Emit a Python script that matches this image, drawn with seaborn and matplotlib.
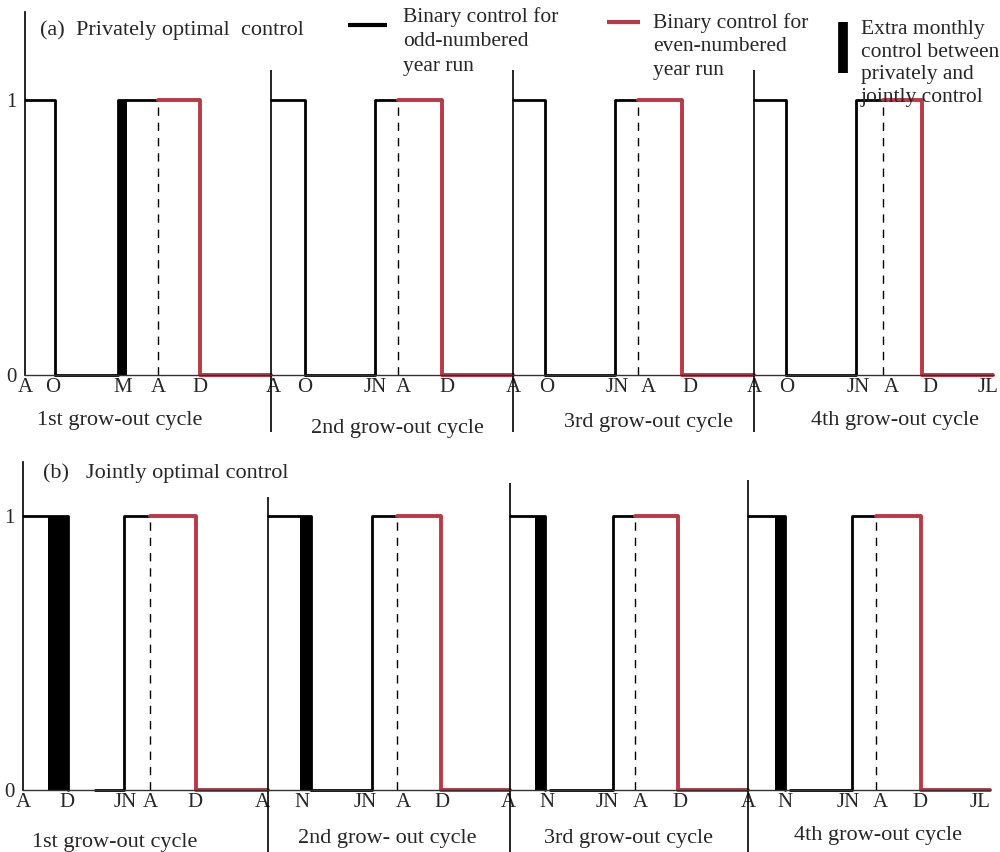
import numpy as np
import pandas as pd
import matplotlib
matplotlib.use('Agg')
import matplotlib.pyplot as plt
import seaborn as sns

# --- DATA (time axis: about 10 units per grow-out cycle) ---
CYCLE_NAMES_A = ["1st grow-out cycle", "2nd grow-out cycle", "3rd grow-out cycle", "4th grow-out cycle"]
CYCLE_NAMES_B = ["1st grow-out cycle", "2nd grow- out cycle", "3rd grow-out cycle", "4th grow-out cycle"]

# (a) privately optimal control
A_START = [0.0, 10.14, 20.12, 30.06]
A_END = [10.14, 20.12, 30.06, 39.92]
A_OFF = [1.24, 11.55, 21.44, 31.38]
A_ZERO_FROM = [1.24, 11.55, 21.44, 31.38]
A_ON = [3.84, 14.43, 24.33, 34.27]
A_SWITCH = [5.48, 15.38, 25.28, 35.38]   # odd-year run -> even-year run
A_STOP = [7.22, 17.20, 27.09, 36.99]
A_EXTRA_L = [3.84]
A_EXTRA_R = [4.21]
A_TICK_POS = [0.0, 1.15, 4.04, 5.48, 7.22, 10.23, 11.55, 14.43, 15.59, 17.40,
              20.12, 21.53, 24.41, 25.69, 27.42, 30.10, 31.42, 34.35, 35.75, 37.32, 39.71]
A_TICK_LAB = ['A', 'O', 'M', 'A', 'D', 'A', 'O', 'JN', 'A', 'D',
              'A', 'O', 'JN', 'A', 'D', 'A', 'O', 'JN', 'A', 'D', 'JL']

# (b) jointly optimal control
B_START = [0.0, 10.10, 20.08, 29.90]
B_END = [10.10, 20.08, 29.90, 39.88]
B_OFF = [1.86, 11.88, 21.53, 31.42]
B_ZERO_FROM = [2.97, 11.88, 21.73, 31.63]
B_ON = [4.16, 14.39, 24.33, 34.19]
B_SWITCH = [5.24, 15.42, 25.24, 35.18]
B_STOP = [7.13, 17.24, 27.01, 37.03]
B_EXTRA_L = [1.03, 11.42, 21.11, 31.01]
B_EXTRA_R = [1.86, 11.88, 21.53, 31.42]
B_TICK_POS = [0.0, 1.81, 4.20, 5.24, 7.09, 9.86, 11.50, 14.10, 15.67, 17.28,
              20.00, 21.61, 24.08, 25.44, 27.09, 29.90, 31.42, 34.02, 35.34, 36.99, 39.46]
B_TICK_LAB = ['A', 'D', 'JN', 'A', 'D', 'A', 'N', 'JN', 'A', 'D',
              'A', 'N', 'JN', 'A', 'D', 'A', 'N', 'JN', 'A', 'D', 'JL']

RED = '#b83a45'
FS_TICK = 15
FS_LEG = 15.5
FS_TXT = 16


def step_frame(start, off, zero_from, on, switch, stop, end):
    rows = []
    for i in range(len(start)):
        pieces = [
            ('odd', [(start[i], 1), (off[i], 1), (off[i], 0)]),
            ('odd', [(zero_from[i], 0), (on[i], 0), (on[i], 1), (switch[i], 1)]),
            ('even', [(switch[i], 1), (stop[i], 1), (stop[i], 0), (end[i], 0)]),
        ]
        for j, (run, pts) in enumerate(pieces):
            for t, u in pts:
                rows.append({'t': t, 'u': u, 'seg': f'{i}-{j}', 'run': run})
    return pd.DataFrame(rows)


def draw_panel(ax, df, extra_l, extra_r, switch, start, ticks, labels, y_top, sep_top, sep_bottom):
    sns.lineplot(data=df[df.run == 'odd'], x='t', y='u', units='seg', estimator=None, sort=False,
                 color='black', lw=2, ax=ax, legend=False)
    sns.lineplot(data=df[df.run == 'even'], x='t', y='u', units='seg', estimator=None, sort=False,
                 color=RED, lw=2.8, ax=ax, legend=False)
    ax.bar(extra_l, 1, width=np.subtract(extra_r, extra_l), align='edge', color='black', lw=0)
    ax.vlines(switch, 0, 1, colors='black', lw=1, linestyles=(0, (6, 5)))
    ax.vlines(start[1:], sep_bottom, sep_top, colors='black', lw=1.2, clip_on=False)

    for s in ['top', 'right']:
        ax.spines[s].set_visible(False)
    ax.spines['left'].set_bounds(0, y_top)
    ax.spines['left'].set_linewidth(1.2)
    ax.spines['left'].set_color('black')
    ax.spines['bottom'].set_position(('data', 0))
    ax.spines['bottom'].set_bounds(0, df.t.max())
    ax.spines['bottom'].set_linewidth(1)
    ax.spines['bottom'].set_color('#333333')
    ax.set_yticks([0, 1])
    ax.set_yticklabels(['0', '1'], fontsize=FS_TICK)
    ax.set_xticks(ticks)
    ax.set_xticklabels(labels, fontsize=FS_TICK)
    ax.tick_params(axis='y', length=0, pad=6)
    ax.tick_params(axis='x', length=0, pad=2)
    ax.set_xlabel('')
    ax.set_ylabel('')


sns.set_theme(style='white')
plt.rcParams['font.family'] = ['Liberation Serif', 'DejaVu Serif']

fig = plt.figure(figsize=(10, 8.52), dpi=100)
ax_a = fig.add_axes([0.025, 1 - 440 / 852, 0.975, 440 / 852])
ax_b = fig.add_axes([0.023, 0, 0.977, 412 / 852])

df_a = step_frame(A_START, A_OFF, A_ZERO_FROM, A_ON, A_SWITCH, A_STOP, A_END)
df_b = step_frame(B_START, B_OFF, B_ZERO_FROM, B_ON, B_SWITCH, B_STOP, B_END)

draw_panel(ax_a, df_a, A_EXTRA_L, A_EXTRA_R, A_SWITCH, A_START, A_TICK_POS, A_TICK_LAB,
           1.32, 1.11, -0.207)
draw_panel(ax_b, df_b, B_EXTRA_L, B_EXTRA_R, B_SWITCH, B_START, B_TICK_POS, B_TICK_LAB,
           1.197, [1.07, 1.12, 1.13], -0.226)
ax_a.set_xlim(0, 40.21)
ax_a.set_ylim(-0.236, 1.364)
ax_b.set_xlim(0, 40.29)
ax_b.set_ylim(-0.226, 1.277)

# cycle names under each panel
for ax, names, xs, ys in [
    (ax_a, CYCLE_NAMES_A, [3.92, 15.38, 25.73, 35.88], [-0.164, -0.193, -0.171, -0.164]),
    (ax_b, CYCLE_NAMES_B, [3.79, 15.01, 24.95, 35.26], [-0.19, -0.175, -0.175, -0.164]),
]:
    for name, x, y in zip(names, xs, ys):
        ax.text(x, y, name, ha='center', va='center', fontsize=FS_TXT)

ax_a.text(0.62, 1.255, "(a)  Privately optimal  control", ha='left', va='center', fontsize=FS_TXT)
ax_b.text(0.82, 1.157, "(b)   Jointly optimal control", ha='left', va='center', fontsize=FS_TXT)

# legend drawn by hand to keep the keys on the first text line
ax_a.plot([13.32, 14.93], [1.273, 1.273], color='black', lw=3, clip_on=False, solid_capstyle='butt')
ax_a.text(15.59, 1.34, "Binary control for\nodd-numbered\nyear run", ha='left', va='top',
          fontsize=FS_LEG, linespacing=1.4)
ax_a.plot([24.0, 25.36], [1.284, 1.284], color=RED, lw=3, clip_on=False, solid_capstyle='butt')
ax_a.text(25.9, 1.318, "Binary control for\neven-numbered\nyear run", ha='left', va='top',
          fontsize=FS_LEG, linespacing=1.35)
ax_a.plot([33.73, 33.73], [1.098, 1.284], color='black', lw=7, clip_on=False, solid_capstyle='butt')
ax_a.text(34.47, 1.29, "Extra monthly\ncontrol between\nprivately and\njointly control", ha='left', va='top',
          fontsize=FS_LEG, linespacing=1.25)

fig.savefig('out.png', dpi=100)
